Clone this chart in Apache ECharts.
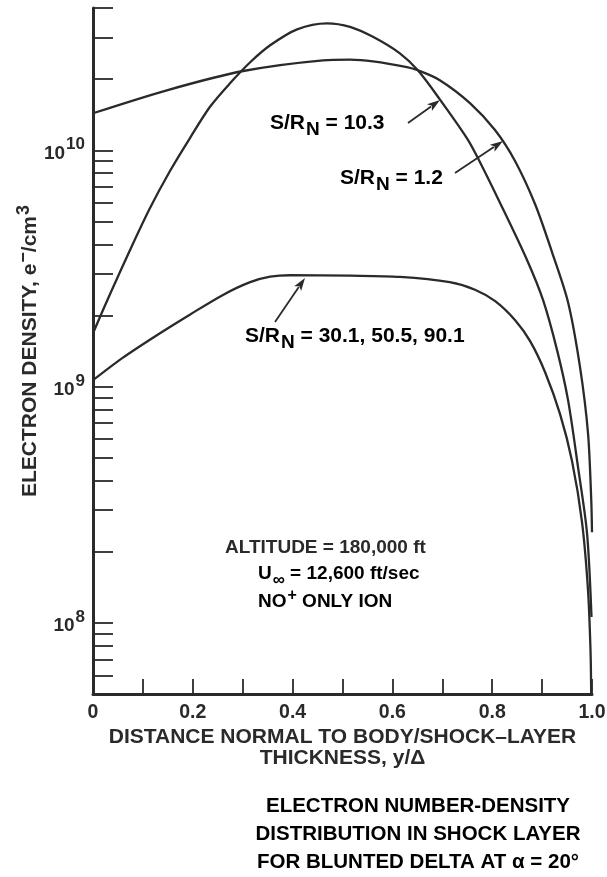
<!DOCTYPE html>
<html>
<head>
<meta charset="utf-8">
<script src="https://cdn.jsdelivr.net/npm/echarts@6/dist/echarts.min.js"></script>
<style>
  html, body { margin: 0; padding: 0; background: #fff; }
  #chart { width: 607px; height: 877px; }
</style>
</head>
<body>
<div id="chart"></div>
<script>
// Electron number density profiles across the shock layer, [y/Δ, n_e (e-/cm3)]
const curveS1_2 = [
  [0.000, 1.434e10], [0.148, 1.794e10], [0.301, 2.165e10], [0.461, 2.403e10],
  [0.515, 2.42e10], [0.561, 2.38e10], [0.629, 2.25e10], [0.651, 2.18e10],
  [0.695, 1.98e10], [0.756, 1.58e10], [0.806, 1.215e10], [0.846, 8.99e9],
  [0.886, 5.91e9], [0.920, 3.70e9], [0.952, 2.275e9], [0.976, 1.208e9],
  [0.992, 6.35e8], [0.9985, 3.31e8], [1.000, 2.42e8]
];
const curveS10_3 = [
  [0.000, 1.682e9], [0.034, 2.46e9], [0.074, 3.776e9], [0.114, 5.684e9],
  [0.154, 8.153e9], [0.194, 1.124e10], [0.2345, 1.528e10], [0.2745, 1.92e10],
  [0.315, 2.357e10], [0.355, 2.781e10], [0.409, 3.25e10], [0.469, 3.445e10],
  [0.515, 3.33e10], [0.561, 3.021e10], [0.615, 2.572e10], [0.651, 2.18e10],
  [0.695, 1.643e10], [0.7495, 1.124e10], [0.7695, 9.43e9], [0.816, 5.97e9],
  [0.870, 3.425e9], [0.902, 2.32e9], [0.930, 1.426e9], [0.952, 8.76e8],
  [0.972, 4.56e8], [0.990, 2.40e8], [0.999, 1.058e8]
];
const curveS30_90 = [
  [0.000, 1.064e9], [0.060, 1.326e9], [0.128, 1.65e9], [0.194, 2.015e9],
  [0.2605, 2.443e9], [0.315, 2.765e9], [0.355, 2.916e9], [0.395, 2.959e9],
  [0.515, 2.945e9], [0.615, 2.911e9], [0.715, 2.765e9], [0.7655, 2.57e9],
  [0.806, 2.298e9], [0.846, 1.909e9], [0.876, 1.556e9], [0.906, 1.15e9],
  [0.936, 7.64e8], [0.960, 4.835e8], [0.980, 2.67e8], [0.992, 1.376e8],
  [0.997, 7.67e7], [0.9984, 5.0e7]
];

// Axis ranges and tick positions
const xRange = [0, 1];
const yRange = [5e7, 4e10];
const yTickValues = [
  6e7, 7e7, 8e7, 9e7,
  1e8, 2e8, 3e8, 4e8, 5e8, 6e8, 7e8, 8e8, 9e8,
  1e9, 2e9, 3e9, 4e9, 5e9, 6e9, 7e9, 8e9, 9e9,
  1e10, 2e10, 3e10, 4e10
];
const yLabelValues = [1e8, 1e9, 1e10];

// Annotation texts
const curveLabels = ['10.3', '1.2', '30.1, 50.5, 90.1'];
const conditionLines = ['ALTITUDE = 180,000 ft', '= 12,600 ft/sec', ' ONLY ION'];
const titleLines = ['ELECTRON NUMBER-DENSITY', 'DISTRIBUTION IN SHOCK LAYER', 'FOR BLUNTED DELTA AT \u03b1 = 20\u00b0'];

const INK = '#2a2a2a';
const FONT = '"Liberation Sans", Arial, Helvetica, sans-serif';

const chart = echarts.init(document.getElementById('chart'), null, { renderer: 'canvas' });

function arrow(x1, y1, x2, y2) {
  const dx = x2 - x1, dy = y2 - y1;
  const len = Math.sqrt(dx * dx + dy * dy);
  const ux = dx / len, uy = dy / len;
  const head = 13, half = 4.2;
  const bx = x2 - ux * head, by = y2 - uy * head;
  return {
    type: 'group',
    children: [
      { type: 'line', shape: { x1: x1, y1: y1, x2: bx + ux * 2, y2: by + uy * 2 },
        style: { stroke: INK, lineWidth: 1.8 } },
      { type: 'polygon',
        shape: { points: [[x2, y2], [bx - uy * half, by + ux * half], [bx + ux * 3, by + uy * 3], [bx + uy * half, by - ux * half]] },
        style: { fill: INK } }
    ]
  };
}

function textStyles(size) {
  return {
    b: { fontFamily: FONT, fontWeight: 'bold', fontSize: size, color: INK },
    sub: { fontFamily: FONT, fontWeight: 'bold', fontSize: size - 2, color: INK, padding: [13, 0, 0, 1] },
    sup: { fontFamily: FONT, fontWeight: 'bold', fontSize: size - 3, color: INK, padding: [0, 0, 13, 1] }
  };
}
const richNote = textStyles(21);
const richCond = textStyles(19);
const richName = textStyles(21);
const richTick = {
  lb: { fontFamily: FONT, fontWeight: 'bold', fontSize: 19, color: INK, padding: [6, 0, 0, 0] },
  ls: { fontFamily: FONT, fontWeight: 'bold', fontSize: 17, color: INK, padding: [0, 0, 11, 1] }
};

function srText(x, y, value) {
  return {
    type: 'text', x: x, y: y,
    style: {
      text: '{b|S/R}{sub|N}{b| = ' + value + '}',
      rich: richNote, align: 'left', verticalAlign: 'middle'
    }
  };
}

const lineSeries = (name, data) => ({
  name: name, type: 'line', data: data, showSymbol: false, smooth: 0.3,
  lineStyle: { color: INK, width: 2.3 }, clip: true, silent: true
});

chart.setOption({
  animation: false,
  backgroundColor: '#ffffff',
  grid: { left: 93, right: 15, top: 8, bottom: 183, containLabel: false, outerBoundsMode: 'none' },
  xAxis: {
    type: 'value', min: xRange[0], max: xRange[1], interval: 0.1,
    axisLine: { lineStyle: { color: INK, width: 3 } },
    axisTick: { inside: true, length: 15, lineStyle: { color: INK, width: 1.8 } },
    splitLine: { show: false },
    axisLabel: {
      margin: 9, color: INK, fontFamily: FONT, fontWeight: 'bold', fontSize: 19.5,
      showMinLabel: true, showMaxLabel: true,
      formatter: function (v) {
        const k = Math.round(v * 10);
        if (k % 2) return '';
        return k === 0 ? '0' : v.toFixed(1);
      }
    },
    name: 'DISTANCE NORMAL TO BODY/SHOCK\u2013LAYER\nTHICKNESS, y/\u0394',
    nameLocation: 'middle', nameGap: 33, nameMoveOverlap: false,
    nameTextStyle: { color: INK, fontFamily: FONT, fontWeight: 'bold', fontSize: 21, lineHeight: 21 }
  },
  yAxis: {
    type: 'log', logBase: 10, min: yRange[0], max: yRange[1],
    axisLine: { show: true, lineStyle: { color: INK, width: 3 } },
    axisTick: { inside: true, length: 20, customValues: yTickValues, lineStyle: { color: INK, width: 1.8 } },
    minorTick: { show: false },
    splitLine: { show: false },
    axisLabel: {
      margin: 8, customValues: yLabelValues,
      formatter: function (v) {
        return '{lb|10}{ls|' + Math.round(Math.log10(v)) + '}';
      },
      rich: richTick
    },
    name: '{b|ELECTRON DENSITY, e}{sup|\u2212}{b|/cm}{sup|3}',
    nameLocation: 'middle', nameRotate: 90, nameGap: 47, nameMoveOverlap: false,
    nameTextStyle: { rich: richName }
  },
  series: [
    lineSeries('S/RN = 1.2', curveS1_2),
    lineSeries('S/RN = 10.3', curveS10_3),
    lineSeries('S/RN = 30.1, 50.5, 90.1', curveS30_90)
  ],
  graphic: [
    srText(270, 123, curveLabels[0]),
    arrow(408, 123, 440, 100),
    srText(340, 178, curveLabels[1]),
    arrow(455, 173, 503, 141),
    srText(245, 336, curveLabels[2]),
    arrow(275, 322, 305, 278),
    { type: 'text', x: 225, y: 548,
      style: { text: conditionLines[0], fontFamily: FONT, fontWeight: 'bold', fontSize: 19, fill: INK, verticalAlign: 'middle' } },
    { type: 'text', x: 258, y: 574,
      style: { text: '{b|U}{sub|\u221e}{b| ' + conditionLines[1] + '}', rich: richCond, verticalAlign: 'middle' } },
    { type: 'text', x: 258, y: 602,
      style: { text: '{b|NO}{sup|+}{b|' + conditionLines[2] + '}', rich: richCond, verticalAlign: 'middle' } },
    { type: 'text', x: 418, y: 806,
      style: { text: titleLines[0], fontFamily: FONT, fontWeight: 'bold', fontSize: 20.5, fill: '#000', align: 'center', verticalAlign: 'middle' } },
    { type: 'text', x: 418, y: 834,
      style: { text: titleLines[1], fontFamily: FONT, fontWeight: 'bold', fontSize: 20.5, fill: '#000', align: 'center', verticalAlign: 'middle' } },
    { type: 'text', x: 418, y: 862,
      style: { text: titleLines[2], fontFamily: FONT, fontWeight: 'bold', fontSize: 20.5, fill: '#000', align: 'center', verticalAlign: 'middle' } }
  ]
});
</script>
</body>
</html>
